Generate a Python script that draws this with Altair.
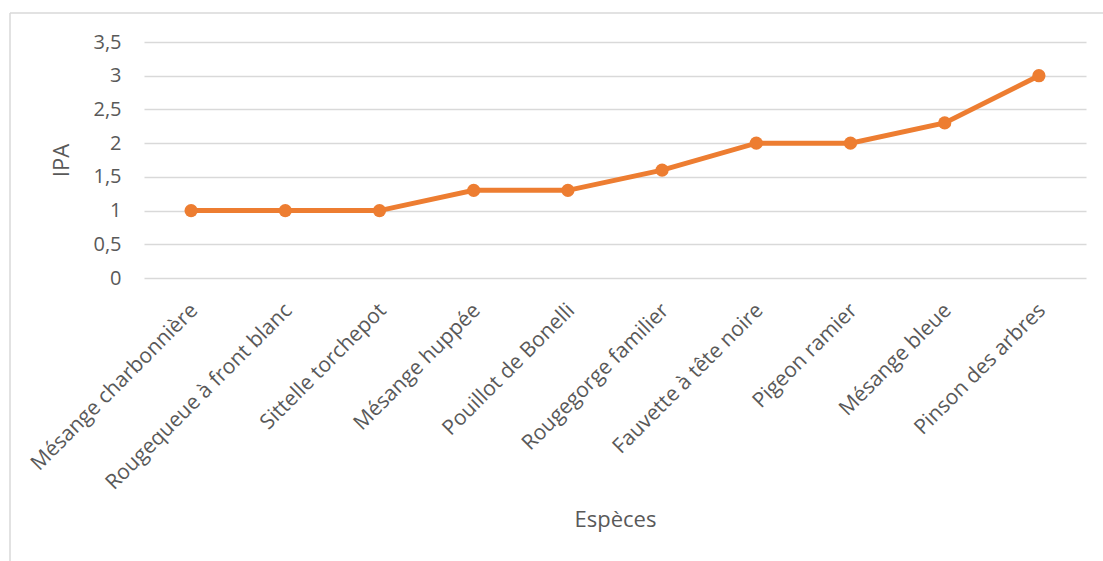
import altair as alt
import pandas as pd

especes = [
    "Mésange charbonnière",
    "Rougequeue à front blanc",
    "Sittelle torchepot",
    "Mésange huppée",
    "Pouillot de Bonelli",
    "Rougegorge familier",
    "Fauvette à tête noire",
    "Pigeon ramier",
    "Mésange bleue",
    "Pinson des arbres",
]
ipa = [1, 1, 1, 1.3, 1.3, 1.6, 2, 2, 2.3, 3]
y_ticks = [0, 0.5, 1, 1.5, 2, 2.5, 3, 3.5]

df = pd.DataFrame({"Espèces": especes, "IPA": ipa})

FONT = "Open Sans"
GREY = "#595959"
ORANGE = "#ED7D31"

x_enc = alt.X(
    "Espèces:N",
    sort=especes,
    scale=alt.Scale(paddingInner=0, paddingOuter=0.5),
    axis=alt.Axis(
        title="Espèces",
        labelAngle=315,
        labelAlign="right",
        labelBaseline="middle",
        labelPadding=29,
        labelOffset=3,
        labelFontSize=21,
        labelFont=FONT,
        labelColor=GREY,
        ticks=False,
        domain=False,
        grid=False,
        titleFont=FONT,
        titleFontSize=22,
        titleFontWeight="normal",
        titleColor=GREY,
        titleY=241,
        titleBaseline="middle",
        labelLimit=400,
    ),
)
y_enc = alt.Y(
    "IPA:Q",
    scale=alt.Scale(domain=[0, 3.5], nice=False),
    axis=alt.Axis(
        title="IPA",
        values=y_ticks,
        labelExpr="replace(toString(datum.value), '.', ',')",
        labelFontSize=20,
        labelFont=FONT,
        labelColor=GREY,
        labelPadding=23,
        ticks=False,
        domain=False,
        grid=True,
        gridColor="#d9d9d9",
        gridWidth=1.5,
        titleFont=FONT,
        titleFontSize=22,
        titleFontWeight="normal",
        titleColor=GREY,
        titleX=-83,
        titleY=118,
        titleAngle=270,
        titleAlign="center",
        titleBaseline="middle",
    ),
)

line = alt.Chart(df).mark_line(color=ORANGE, strokeWidth=5).encode(x=x_enc, y=y_enc)
points = alt.Chart(df).mark_circle(color=ORANGE, size=175, opacity=1).encode(x=x_enc, y=y_enc)

frame_data = alt.Data(values=[{"k": 1}])
top_rule = alt.Chart(frame_data).mark_rule(color="#d9d9d9", strokeWidth=1.5).encode(
    x=alt.value(-134), x2=alt.value(1000), y=alt.value(-29)
)
left_rule = alt.Chart(frame_data).mark_rule(color="#d9d9d9", strokeWidth=1.5).encode(
    x=alt.value(-134), y=alt.value(-29), y2=alt.value(600)
)

chart = (
    alt.layer(top_rule, left_rule, line, points)
    .properties(
        width=942,
        height=236,
        autosize=alt.AutoSizeParams(type="none"),
        padding={"left": 144, "top": 42, "right": 17, "bottom": 283},
        background="white",
    )
    .configure_view(stroke=None)
)

chart.save("out.html", embed_options={"renderer": "svg", "actions": False})
